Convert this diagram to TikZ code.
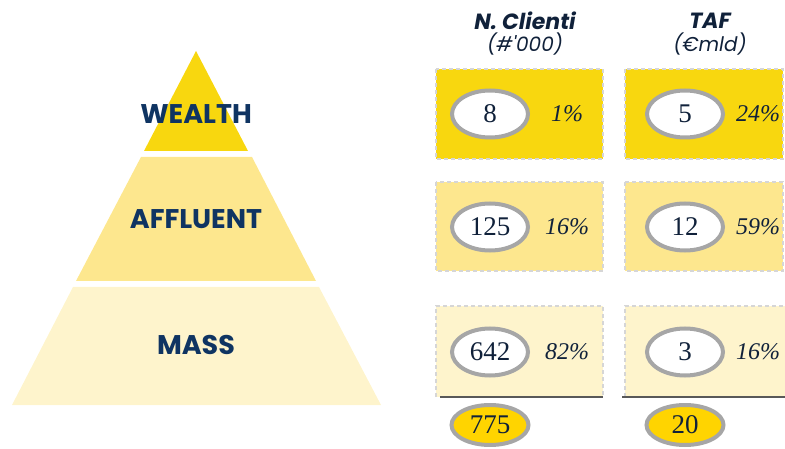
\documentclass[tikz,border=0pt]{standalone}
\usepackage{fontspec}
\setmainfont{Liberation Serif}
\newfontfamily\geo{Poppins}
\usetikzlibrary{shapes.geometric}
\definecolor{wealthY}{HTML}{F8D70F}
\definecolor{afflY}{HTML}{FDE78E}
\definecolor{massY}{HTML}{FEF4CC}
\definecolor{navy}{HTML}{0F3462}
\definecolor{ink}{HTML}{10213A}
\definecolor{ringG}{HTML}{A6A6A6}
\definecolor{dashG}{HTML}{D6D6D6}
\definecolor{lineG}{HTML}{595959}
\definecolor{totY}{HTML}{FFD400}
\tikzset{
  tier/.style={font=\geo\bfseries\fontsize{27}{30}\selectfont, text=navy},
  cellbox/.style={draw=dashG, line width=1.2pt, dash pattern=on 4pt off 3pt},
  ring/.style={ellipse, draw=ringG, line width=4pt, fill=white, minimum width=76pt, minimum height=47pt, inner sep=0pt, font=\fontsize{27}{30}\selectfont, text=ink},
  totring/.style={ellipse, draw=ringG, line width=4pt, fill=totY, minimum width=77pt, minimum height=40pt, inner sep=0pt, font=\fontsize{27}{30}\selectfont, text=ink},
  pct/.style={font=\itshape\fontsize{24}{28}\selectfont, text=ink},
  head/.style={font=\geo\bfseries\itshape\fontsize{22}{24}\selectfont, text=ink},
  sub/.style={font=\geo\itshape\fontsize{20}{22}\selectfont, text=ink},
  baseline/.style={draw=lineG, line width=1.8pt}
}
\begin{document}
\begin{tikzpicture}[x=1pt,y=-1pt]
\useasboundingbox (0,0) rectangle (785,449);
% pyramid
\fill[wealthY] (196,51) -- (248,151) -- (144,151) -- cycle;
\fill[afflY] (141,157) -- (252,157) -- (316,281) -- (76,281) -- cycle;
\fill[massY] (73,287) -- (319,287) -- (381,405) -- (12,405) -- cycle;
\node[tier] (wealth) at (196,114) {WEALTH};
\node[tier] (affluent) at (196,219) {AFFLUENT};
\node[tier] (mass) at (196,345) {MASS};
% headers
\node[head] (h1) at (525,21) {N. Clienti};
\node[sub] (s1) at (525,44) {(\#'000)};
\node[head] (h2) at (710,21) {TAF};
\node[sub] (s2) at (710,44) {(€mld)};
% row boxes
\fill[wealthY] (436,69) rectangle (603,159);
\draw[cellbox] (436,69) rectangle (603,159);
\fill[wealthY] (625,69) rectangle (783,159);
\draw[cellbox] (625,69) rectangle (783,159);
\fill[afflY] (436,182) rectangle (603,271);
\draw[cellbox] (436,182) rectangle (603,271);
\fill[afflY] (625,182) rectangle (783,271);
\draw[cellbox] (625,182) rectangle (783,271);
\fill[massY] (436,306) rectangle (603,397);
\draw[cellbox] (436,397) -- (436,306) -- (603,306) -- (603,397);
\fill[massY] (625,306) rectangle (786,397);
\draw[cellbox] (625,397) -- (625,306) -- (786,306);
\draw[baseline] (440,397) -- (603,397);
\draw[baseline] (622,397) -- (786,397);
% values
\node[ring] (c1) at (490,114) {8};
\node[pct] (p1) at (567,114) {1\%};
\node[ring] (t1) at (685,114) {5};
\node[pct] (q1) at (758,114) {24\%};
\node[ring] (c2) at (490,227) {125};
\node[pct] (p2) at (567,227) {16\%};
\node[ring] (t2) at (685,227) {12};
\node[pct] (q2) at (758,227) {59\%};
\node[ring] (c3) at (490,352) {642};
\node[pct] (p3) at (567,352) {82\%};
\node[ring] (t3) at (685,352) {3};
\node[pct] (q3) at (758,352) {16\%};
% totals
\node[totring] (ct) at (490,425) {775};
\node[totring] (tt) at (685,425) {20};
\end{tikzpicture}
\end{document}
